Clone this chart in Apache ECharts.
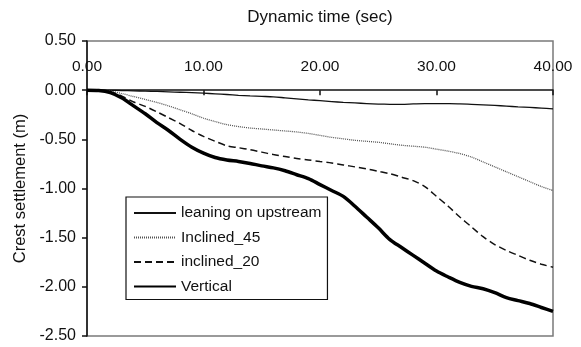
<!DOCTYPE html>
<html>
<head>
<meta charset="utf-8">
<script src="https://cdn.jsdelivr.net/npm/echarts@6/dist/echarts.min.js"></script>
<style>
  html, body { margin: 0; padding: 0; background: #fff; }
  #chart { width: 581px; height: 347px; }
</style>
</head>
<body>
<div id="chart"></div>
<script>
// Dynamic time (sec)
var time = [0,1,2,3,4,5,6,7,8,9,10,11,12,13,14,15,16,17,18,19,20,
            21,22,23,24,25,26,27,28,29,30,31,32,33,34,35,36,37,38,39,40];

// Crest settlement (m) for each dam configuration
var leaningOnUpstream = [0,0,-0.002,-0.004,-0.007,-0.01,-0.013,-0.017,-0.021,-0.026,-0.031,
  -0.037,-0.044,-0.052,-0.058,-0.063,-0.068,-0.078,-0.088,-0.098,-0.107,
  -0.116,-0.124,-0.13,-0.136,-0.141,-0.144,-0.145,-0.14,-0.136,-0.136,
  -0.137,-0.139,-0.144,-0.149,-0.155,-0.162,-0.17,-0.176,-0.182,-0.19];

var inclined45 = [0,-0.002,-0.01,-0.035,-0.065,-0.095,-0.125,-0.16,-0.2,-0.24,-0.285,
  -0.32,-0.35,-0.37,-0.385,-0.395,-0.405,-0.415,-0.425,-0.44,-0.46,
  -0.48,-0.495,-0.51,-0.52,-0.53,-0.545,-0.56,-0.57,-0.58,-0.6,
  -0.62,-0.645,-0.68,-0.73,-0.78,-0.83,-0.88,-0.93,-0.98,-1.02];

var inclined20 = [0,-0.002,-0.015,-0.06,-0.12,-0.165,-0.22,-0.28,-0.34,-0.41,-0.47,
  -0.52,-0.565,-0.585,-0.605,-0.63,-0.655,-0.675,-0.695,-0.71,-0.725,
  -0.74,-0.76,-0.78,-0.8,-0.825,-0.85,-0.885,-0.92,-0.98,-1.08,
  -1.18,-1.29,-1.39,-1.49,-1.57,-1.63,-1.68,-1.73,-1.77,-1.8];

var vertical = [0,-0.003,-0.025,-0.08,-0.16,-0.24,-0.33,-0.41,-0.5,-0.58,-0.64,
  -0.685,-0.71,-0.725,-0.745,-0.77,-0.79,-0.82,-0.86,-0.9,-0.96,
  -1.02,-1.08,-1.18,-1.29,-1.4,-1.52,-1.6,-1.68,-1.76,-1.84,
  -1.9,-1.955,-1.995,-2.02,-2.06,-2.11,-2.14,-2.17,-2.21,-2.25];

var seriesNames = ['leaning on upstream', 'Inclined_45', 'inclined_20', 'Vertical'];

function pairs(values) {
  return time.map(function (t, i) { return [t, values[i]]; });
}

var FONT = 'Arial, "Liberation Sans", sans-serif';

var chart = echarts.init(document.getElementById('chart'));
chart.setOption({
  animation: false,
  backgroundColor: '#ffffff',
  grid: {
    left: 87, right: 28, top: 41, bottom: 11,
    show: true, borderColor: '#7a7a7a', borderWidth: 1.5, backgroundColor: 'transparent'
  },
  legend: {
    data: seriesNames,
    orient: 'vertical',
    left: 126, top: 197,
    padding: [8, 6, 5, 7],
    itemGap: 8.5,
    itemWidth: 42, itemHeight: 14,
    borderColor: '#111', borderWidth: 1.2,
    backgroundColor: '#fff',
    itemStyle: { opacity: 0 },
    textStyle: { fontFamily: FONT, fontSize: 15.5, color: '#111', lineHeight: 16 }
  },
  xAxis: {
    type: 'value', position: 'top',
    min: 0, max: 40, interval: 10,
    name: 'Dynamic time (sec)', nameLocation: 'middle', nameGap: 15,
    nameTextStyle: { fontFamily: FONT, fontSize: 17, color: '#111' },
    axisLine: { lineStyle: { color: '#111', width: 1.5 } },
    axisTick: { inside: true, length: 5, lineStyle: { color: '#111', width: 1.5 } },
    axisLabel: {
      inside: true, margin: 18, fontFamily: FONT, fontSize: 15.5, color: '#111',
      showMinLabel: true, showMaxLabel: true,
      formatter: function (v) { return v.toFixed(2); }
    },
    splitLine: { show: false }
  },
  yAxis: {
    type: 'value',
    min: -2.5, max: 0.5, interval: 0.5,
    name: 'Crest settlement (m)', nameLocation: 'middle', nameGap: 57,
    nameTextStyle: { fontFamily: FONT, fontSize: 16.5, color: '#111' },
    axisLine: { show: true, onZero: false, lineStyle: { color: '#111', width: 1.5 } },
    axisTick: { show: true, length: 5, lineStyle: { color: '#111', width: 1.5 } },
    axisLabel: {
      margin: 11, fontFamily: FONT, fontSize: 16, color: '#111',
      formatter: function (v) { return v.toFixed(2); }
    },
    splitLine: { show: false }
  },
  series: [
    {
      name: seriesNames[0], type: 'line', data: pairs(leaningOnUpstream),
      symbol: 'none', smooth: 0.3,
      lineStyle: { color: '#111', width: 1.3, type: 'solid' }
    },
    {
      name: seriesNames[1], type: 'line', data: pairs(inclined45),
      symbol: 'none', smooth: 0.3,
      lineStyle: { color: '#555', width: 1.3, type: [1, 1] }
    },
    {
      name: seriesNames[2], type: 'line', data: pairs(inclined20),
      symbol: 'none', smooth: 0.3,
      lineStyle: { color: '#111', width: 1.5, type: [7, 4] }
    },
    {
      name: seriesNames[3], type: 'line', data: pairs(vertical),
      symbol: 'none', smooth: 0.3,
      lineStyle: { color: '#000', width: 3.5, type: 'solid' }
    }
  ]
});
</script>
</body>
</html>
